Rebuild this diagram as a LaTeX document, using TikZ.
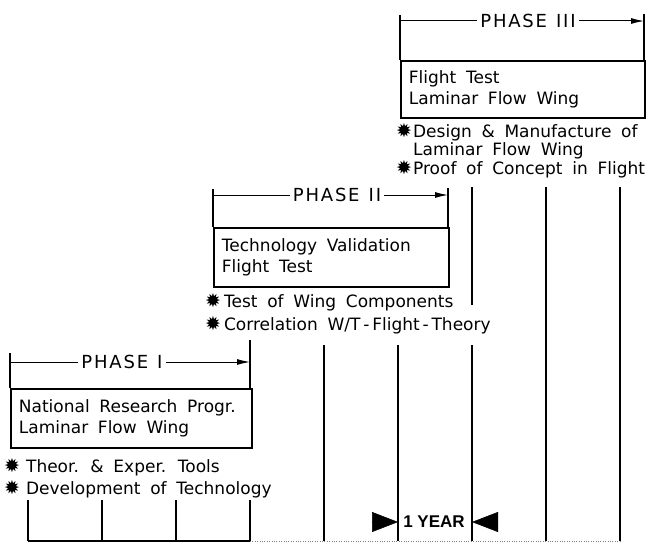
\documentclass[tikz,border=0pt]{standalone}
\usepackage{fontspec}
\setmainfont{DejaVu Sans}[WordSpace=1.8]
\newfontfamily\phasefont{DejaVu Sans}[LetterSpace=10,WordSpace=1.2]
\newfontfamily\yearfont{Liberation Sans}
\usetikzlibrary{arrows.meta}

\newcommand\starbul[1]{{\fontsize{19}{19}\selectfont ✹}\hspace{#1}}

\tikzset{
  phasebox/.style={draw,line width=1.8pt,anchor=north west,align=flush left,inner xsep=8pt,inner ysep=0pt,text width=#1},
  phaselabel/.style={inner xsep=3pt,inner ysep=0pt,font=\phasefont\fontsize{18}{18}\selectfont},
  tickline/.style={line width=1.8pt},
  spanline/.style={line width=1pt},
  bulletitem/.style={anchor=base west,inner sep=0pt},
  yeartip/.style={line width=0.5pt,-{Triangle[length=26pt,width=20pt]}}
}

\begin{document}
\begin{tikzpicture}[x=1pt,y=-1pt,every node/.style={font=\fontsize{17}{21}\selectfont}]
  \useasboundingbox (0,0) rectangle (646,543);

  % phase I
  \node[phasebox=225pt,minimum height=59pt] (box1) at (10,388) {National Research Progr.\\Laminar Flow Wing};
  \node[phaselabel] (lab1) at (122,362) {PHASE I};
  \coordinate (a1) at (10,353);
  \coordinate (b1) at (250,340);
  \draw[tickline] (a1) -- (box1.north west);
  \draw[tickline] (b1) -- (b1 |- box1.north);
  \draw[spanline] (a1 |- lab1) -- (lab1.west);
  \draw[spanline,-{Latex[length=13pt,width=6pt]}] (lab1.east) -- (b1 |- lab1);
  \node[bulletitem] (it1a) at (4,472) {\starbul{6pt}Theor. \& Exper. Tools};
  \node[bulletitem] (it1b) at (4,494) {\starbul{6pt}Development of Technology};

  % phase II
  \node[phasebox=219pt,minimum height=59pt] (box2) at (213,227) {Technology Validation\\Flight Test};
  \node[phaselabel] (lab2) at (337,195) {PHASE II};
  \coordinate (a2) at (213,189);
  \coordinate (b2) at (448,188);
  \draw[tickline] (a2) -- (box2.north west);
  \draw[tickline] (b2) -- (b2 |- box2.north);
  \draw[spanline] (a2 |- lab2) -- (lab2.west);
  \draw[spanline,-{Latex[length=13pt,width=6pt]}] (lab2.east) -- (b2 |- lab2);
  \node[bulletitem] (it2a) at (205,307) {\starbul{3pt}Test of Wing Components};
  \node[bulletitem] (it2b) at (205,330) {\starbul{3pt}Correlation W/T\,-\,Flight\,-\,Theory};

  % phase III
  \node[phasebox=228pt,minimum height=57pt] (box3) at (400,60) {Flight Test\\Laminar Flow Wing};
  \node[phaselabel] (lab3) at (528,21) {PHASE III};
  \coordinate (a3) at (400,15);
  \coordinate (b3) at (644,14);
  \draw[tickline] (a3) -- (box3.north west);
  \draw[tickline] (b3) -- (b3 |- box3.north);
  \draw[spanline] (a3 |- lab3) -- (lab3.west);
  \draw[spanline,-{Latex[length=13pt,width=6pt]}] (lab3.east) -- (b3 |- lab3);
  \node[bulletitem] (it3a) at (396,137) {\starbul{1pt}Design \& Manufacture of};
  \node[bulletitem] (it3b) at (413,155) {Laminar Flow Wing};
  \node[bulletitem] (it3c) at (396,174) {\starbul{1pt}Proof of Concept in Flight};

  % time scale
  \foreach \i in {0,...,8} \coordinate (t\i) at (28+74*\i,541);
  \draw[tickline] (t0) -- ++(0,-41);
  \draw[tickline] (t1) -- ++(0,-41);
  \draw[tickline] (t2) -- ++(0,-41);
  \draw[tickline] (t3) -- ++(0,-41);
  \draw[tickline] (t4) -- ++(0,-196);
  \draw[tickline] (t5) -- ++(0,-196);
  \draw[tickline] (t6) -- ++(0,-196);
  \draw[tickline] (t6) ++(0,-236) -- ++(0,-118);
  \draw[tickline] (t7) -- ++(0,-354);
  \draw[tickline] (t8) -- ++(0,-354);
  \draw[tickline] (t0) -- (t3);
  \draw[thin,dotted,gray] (t3) -- (t8);

  \node[font=\yearfont\bfseries\fontsize{17}{17}\selectfont,inner sep=0pt] (year) at (434,522) {1 YEAR};
  \coordinate (yl) at (374,522);
  \coordinate (yr) at (496,522);
  \draw[yeartip] (yl) -- (yl -| t5);
  \draw[yeartip] (yr) -- (yr -| t6);
\end{tikzpicture}
\end{document}
